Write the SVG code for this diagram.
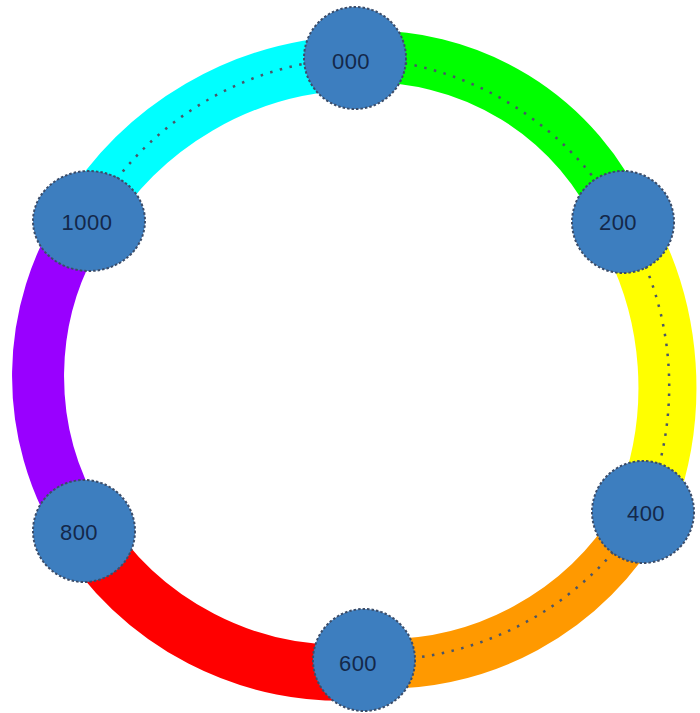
<svg xmlns="http://www.w3.org/2000/svg" width="700" height="713" viewBox="0 0 700 713">
<style>
.band{fill:none;stroke-linecap:butt}
.dot{fill:none;stroke:#4a5568;stroke-width:2.5;stroke-dasharray:2.5 7.5}
.node{fill:#3d7ebf;stroke:#3b4d6a;stroke-width:2;stroke-dasharray:2.5 2}
.lbl{font-family:"Liberation Sans",Arial,sans-serif;font-size:22px;fill:#14284a;text-anchor:middle;dominant-baseline:central;letter-spacing:0.5px}
</style>
<rect width="700" height="713" fill="#ffffff"/>
<g id="connectors">
<path class="band" stroke="#00ff00" stroke-width="52" d="M355,57 A275,275 0 0 1 623,222"/>
<path class="band" stroke="#ffff00" stroke-width="58" d="M623,222 A330,330 0 0 1 643,512"/>
<path class="band" stroke="#ff9900" stroke-width="50" d="M643,512 A295,295 0 0 1 364,663"/>
<path class="band" stroke="#ff0000" stroke-width="56" d="M364,672 A305,305 0 0 1 80,525"/>
<path class="band" stroke="#9900ff" stroke-width="52" d="M80,525 A285,285 0 0 1 84,221"/>
<path class="band" stroke="#00ffff" stroke-width="54" d="M84,221 A325,325 0 0 1 355,63"/>
<path class="dot" d="M355,58 A315,315 0 0 1 623,222"/>
<path class="dot" d="M623,222 A315,315 0 0 1 643,512"/>
<path class="dot" d="M643,512 A315,315 0 0 1 364,660"/>
<path class="dot" d="M89,221 A315,315 0 0 1 355,58"/>
</g>
<g id="n000"><circle class="node" cx="355" cy="58" r="51"/><text class="lbl" x="351" y="61">000</text></g>
<g id="n200"><circle class="node" cx="623" cy="222" r="51"/><text class="lbl" x="618" y="222">200</text></g>
<g id="n400"><circle class="node" cx="643" cy="512" r="51"/><text class="lbl" x="646" y="513">400</text></g>
<g id="n600"><circle class="node" cx="364" cy="660" r="51"/><text class="lbl" x="358" y="663">600</text></g>
<g id="n800"><circle class="node" cx="84" cy="531" r="51"/><text class="lbl" x="79" y="532" letter-spacing="1.5">800</text></g>
<g id="n1000"><ellipse class="node" cx="89" cy="221" rx="56" ry="50"/><text class="lbl" x="87" y="222">1000</text></g>
</svg>
